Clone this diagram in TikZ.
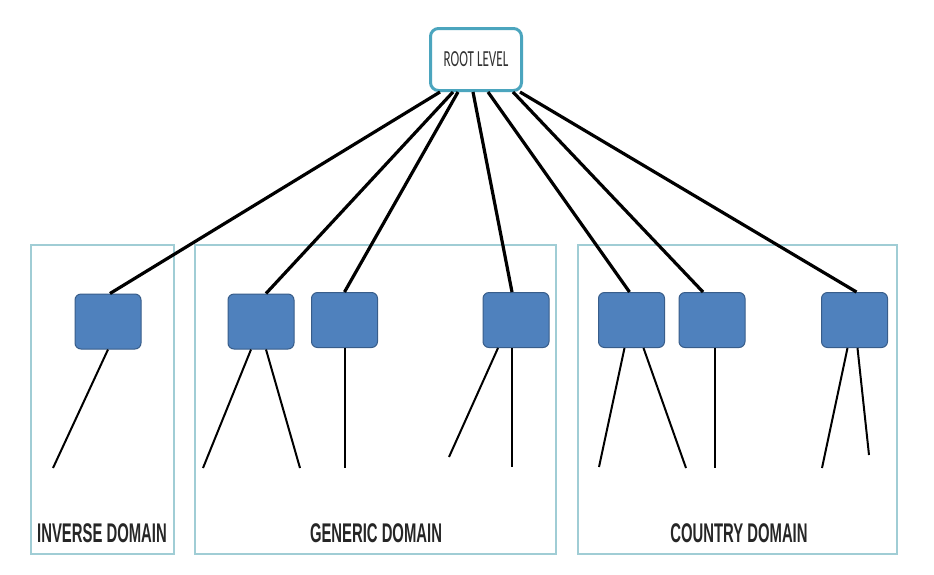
\documentclass[tikz,border=0pt]{standalone}
\usepackage{fontspec}
\usepackage{tikz}
\usetikzlibrary{calc}
\newfontfamily\domainfont[FakeStretch=0.55]{Liberation Sans}
\newfontfamily\rootfont[FakeStretch=0.57]{Carlito}
\definecolor{box-blue}{RGB}{79, 129, 189}
\definecolor{box-edge}{RGB}{56, 93, 138}
\definecolor{root-teal}{RGB}{75, 165, 190}
\definecolor{frame-teal}{RGB}{160, 205, 213}
\definecolor{text-gray}{RGB}{50, 50, 50}

\tikzset{
  rootbox/.style={draw=root-teal,line width=3pt,fill=white,rounded corners=8pt,minimum width=91pt,minimum height=62pt,inner sep=0pt},
  server/.style={fill=box-blue,draw=box-edge,line width=1pt,rounded corners=6pt,minimum width=66pt,minimum height=55pt,inner sep=0pt},
  domainframe/.style={draw=frame-teal,line width=1.5pt},
  domainlabel/.style={font=\domainfont\bfseries\fontsize{27}{30}\selectfont,text=black!85,inner sep=0pt},
  uplink/.style={line width=3.2pt,black},
  leaf/.style={line width=2pt,black}
}

\begin{document}
\begin{tikzpicture}[x=1pt,y=-1pt]
   \fill[use as bounding box,white] (0,0) rectangle (934,574);
   % domain frames
   \draw[domainframe] (31,245) rectangle (174,554);
   \draw[domainframe] (195,245) rectangle (556,554);
   \draw[domainframe] (578,245) rectangle (897,554);
   \node[domainlabel] (lbl-inv) at (102,533) {INVERSE DOMAIN};
   \node[domainlabel] (lbl-gen) at (376,533) {GENERIC DOMAIN};
   \node[domainlabel] (lbl-cty) at (739,533) {COUNTRY DOMAIN};
   % root and servers
   \node[rootbox,font=\rootfont\fontsize{23}{25}\selectfont,text=text-gray] (root) at (476,59.5) {ROOT LEVEL};
   \node[server] (inv) at (108,321.5) {};
   \node[server] (gen1) at (261,321.5) {};
   \node[server] (gen2) at (344.5,320) {};
   \node[server] (gen3) at (516,320) {};
   \node[server] (cty1) at (631.5,320) {};
   \node[server] (cty2) at (712,320) {};
   \node[server] (cty3) at (854.5,320) {};
   % root links
   \draw[uplink] ($(root.south)+(-36,0)$) -- ([xshift=2pt]inv.north);
   \draw[uplink] ($(root.south)+(-23,0)$) -- ([xshift=5pt]gen1.north);
   \draw[uplink] ($(root.south)+(-18,0)$) -- (gen2.north);
   \draw[uplink] ($(root.south)+(-3,0)$) -- ([xshift=-4pt]gen3.north);
   \draw[uplink] ($(root.south)+(12,0)$) -- ([xshift=-2pt]cty1.north);
   \draw[uplink] ($(root.south)+(37,0)$) -- ([xshift=-9pt]cty2.north);
   \draw[uplink] ($(root.south)+(44,0)$) -- ([xshift=2pt]cty3.north);
   % leaves
   \coordinate (inv-a) at (53,468);
   \coordinate (gen1-a) at (203,468);
   \coordinate (gen1-b) at (300,468);
   \coordinate (gen2-a) at (344.5,468);
   \coordinate (gen3-a) at (449,457);
   \coordinate (gen3-b) at (512,467);
   \coordinate (cty1-a) at (599,467);
   \coordinate (cty1-b) at (686,468);
   \coordinate (cty2-a) at (715,468);
   \coordinate (cty3-a) at (822,468);
   \coordinate (cty3-b) at (869,455);
   \draw[leaf] (inv.south) -- (inv-a);
   \draw[leaf] ([xshift=-10pt]gen1.south) -- (gen1-a);
   \draw[leaf] ([xshift=5pt]gen1.south) -- (gen1-b);
   \draw[leaf] (gen2.south) -- (gen2-a);
   \draw[leaf] ([xshift=-18pt]gen3.south) -- (gen3-a);
   \draw[leaf] ([xshift=-4pt]gen3.south) -- (gen3-b);
   \draw[leaf] ([xshift=-7pt]cty1.south) -- (cty1-a);
   \draw[leaf] ([xshift=12pt]cty1.south) -- (cty1-b);
   \draw[leaf] ([xshift=3pt]cty2.south) -- (cty2-a);
   \draw[leaf] ([xshift=-7pt]cty3.south) -- (cty3-a);
   \draw[leaf] ([xshift=3pt]cty3.south) -- (cty3-b);
   \end{tikzpicture}
\end{document}
